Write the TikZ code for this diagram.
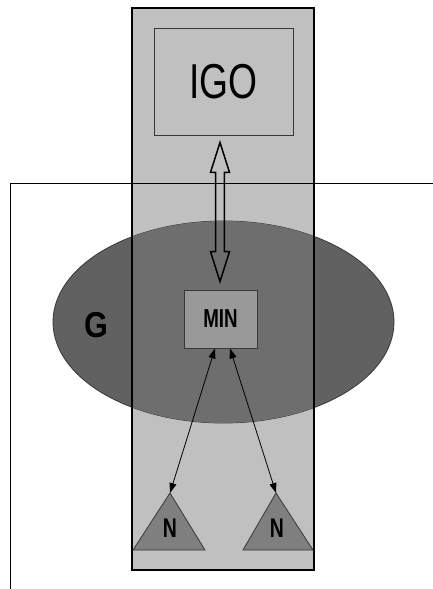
\documentclass[tikz,border=0pt]{standalone}
\usepackage{fontspec}
\newfontfamily\igofont[FakeStretch=0.76]{Liberation Sans}
\newfontfamily\minfont[FakeStretch=0.72]{Liberation Sans}
\newfontfamily\gfont[FakeStretch=0.85]{Liberation Sans}
\usetikzlibrary{arrows.meta,calc}
\definecolor{panel}{HTML}{C0C0C0}
\definecolor{govout}{HTML}{616161}
\definecolor{govin}{HTML}{6E6E6E}
\definecolor{minfill}{HTML}{999999}
\definecolor{trifill}{HTML}{7F7F7F}
\definecolor{edge}{HTML}{383838}
\tikzset{
  x=1pt, y=-1pt,
  boxstyle/.style={draw=edge, line width=0.9pt, inner sep=0pt, anchor=center},
  biarrow/.style={line width=0.8pt, {Triangle[length=10pt,width=7pt]}-{Triangle[length=10pt,width=7pt]}},
  tristyle/.style={draw=edge, line width=0.8pt, fill=trifill},
}
\begin{document}
\begin{tikzpicture}
\useasboundingbox (0,0) rectangle (433,589);
\fill[white] (0,0) rectangle (433,589);
% tall panel fill
\fill[panel] (132,8) rectangle (314,570);
% ellipse G
\filldraw[fill=govout, draw=edge, line width=0.8pt] (223.5,322) ellipse [x radius=170.5pt, y radius=101pt];
\begin{scope}
  \clip (132,8) rectangle (314,570);
  \fill[govin] (223.5,322) ellipse [x radius=170.5pt, y radius=101pt];
\end{scope}
% open outer frame
\draw[line width=0.9pt] (10,589) -- (10,183) -- (433,183);
% tall panel border
\draw[line width=2.2pt] (132,8) rectangle (314,570);
% boxes
\node[boxstyle, fill=panel, minimum width=139pt, minimum height=107pt] (igo) at (223.5,81.5) {\igofont\fontsize{49}{49}\selectfont IGO};
\node[boxstyle, fill=minfill, minimum width=73pt, minimum height=58pt] (min) at (220.5,319) {\minfont\bfseries\fontsize{26}{26}\selectfont MIN};
\node (g) at (96,325) {\gfont\bfseries\fontsize{36}{36}\selectfont G};
% triangles
\coordinate (apexL) at (170,493);
\coordinate (apexR) at (276,493);
\draw[tristyle] (apexL) -- (133,550) -- (205,550) -- cycle;
\draw[tristyle] (apexR) -- (243,550) -- (313,550) -- cycle;
\node (nL) at (170,528) {\minfont\bfseries\fontsize{27}{27}\selectfont N};
\node (nR) at (277,528) {\minfont\bfseries\fontsize{27}{27}\selectfont N};
% hollow double arrow between IGO and MIN
\coordinate (at) at ($(igo.south)+(-3.5,7)$);
\coordinate (ab) at ($(min.north)+(-0.5,-8)$);
\draw[line width=1.5pt, line join=miter]
  (at) -- ($(at)+(-9.5,30)$) -- ($(at)+(-4.3,30)$) -- ($(ab)+(-4.3,-30)$) -- ($(ab)+(-9.5,-30)$)
  -- (ab) -- ($(ab)+(9.5,-30)$) -- ($(ab)+(4.3,-30)$) -- ($(at)+(4.3,30)$) -- ($(at)+(9.5,30)$) -- cycle;
% thin arrows from MIN to N
\coordinate (minL) at ($(min.south)+(-5.5,0)$);
\coordinate (minR) at ($(min.south)+(9.5,0)$);
\draw[biarrow] (minL) -- (apexL);
\draw[biarrow] (minR) -- (apexR);
\end{tikzpicture}
\end{document}
